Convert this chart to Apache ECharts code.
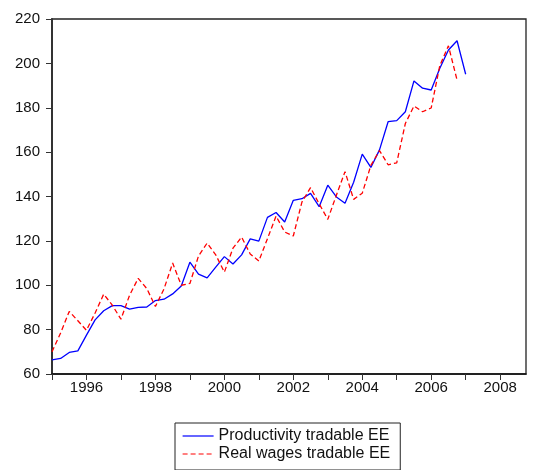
<!DOCTYPE html>
<html>
<head>
<meta charset="utf-8">
<script src="https://cdn.jsdelivr.net/npm/echarts@6/dist/echarts.min.js"></script>
<style>
html,body{margin:0;padding:0;background:#fff;}
#chart{width:541px;height:470px;}
</style>
</head>
<body>
<div id="chart"></div>
<script>
const periods = [
 '1995Q1','1995Q2','1995Q3','1995Q4','1996Q1','1996Q2','1996Q3','1996Q4',
 '1997Q1','1997Q2','1997Q3','1997Q4','1998Q1','1998Q2','1998Q3','1998Q4',
 '1999Q1','1999Q2','1999Q3','1999Q4','2000Q1','2000Q2','2000Q3','2000Q4',
 '2001Q1','2001Q2','2001Q3','2001Q4','2002Q1','2002Q2','2002Q3','2002Q4',
 '2003Q1','2003Q2','2003Q3','2003Q4','2004Q1','2004Q2','2004Q3','2004Q4',
 '2005Q1','2005Q2','2005Q3','2005Q4','2006Q1','2006Q2','2006Q3','2006Q4',
 '2007Q1'
];
const productivity = [
 66.4, 67.0, 69.7, 70.4, 77.5, 84.4, 88.5, 90.8,
 90.8, 89.2, 90.0, 90.2, 93.1, 93.7, 96.1, 99.7,
 110.4, 105.0, 103.3, 108.2, 112.9, 109.6, 113.7, 120.9,
 119.9, 130.6, 132.8, 128.5, 138.3, 139.0, 141.4, 135.4,
 145.1, 139.8, 137.0, 146.4, 159.1, 153.1, 161.0, 173.7,
 174.2, 178.2, 192.1, 188.8, 188.0, 197.8, 206.0, 210.2,
 195.1
];
const realWages = [
 70.0, 78.5, 88.2, 84.0, 79.7, 87.5, 96.0, 91.0,
 84.7, 95.5, 103.1, 98.5, 90.4, 98.4, 110.0, 100.0,
 100.8, 113.2, 119.0, 113.7, 105.9, 116.7, 121.7, 114.1,
 110.9, 121.0, 131.2, 124.0, 122.2, 137.5, 144.0, 136.7,
 129.7, 140.6, 151.2, 138.7, 141.5, 154.0, 160.7, 154.3,
 155.2, 172.9, 180.8, 178.2, 179.9, 199.0, 207.9, 192.5
];
const xTickYears = [1995,1996,1997,1998,1999,2000,2001,2002,2003,2004,2005,2006,2007,2008];
const xLabelYears = [1996,1998,2000,2002,2004,2006,2008];
const seriesNames = ['Productivity tradable EE','Real wages tradable EE'];

function periodToTime(p){
  const y = parseInt(p.slice(0,4),10);
  const q = parseInt(p.slice(5),10);
  return y + (q-1)/4;
}
function pairs(vals){
  return vals.map((v,i)=>[periodToTime(periods[i]), v]);
}

const chart = echarts.init(document.getElementById('chart'), null, {renderer:'canvas'});
const font = 'Liberation Sans, Arial, sans-serif';
chart.setOption({
  animation:false,
  backgroundColor:'#fff',
  grid:{left:52,right:15,top:19,bottom:96,show:true,borderColor:'#222',borderWidth:1.3,backgroundColor:'transparent'},
  xAxis:{
    type:'value',min:1995,max:2008.75,
    splitLine:{show:false},
    axisLine:{lineStyle:{color:'#111',width:1.5}},
    axisTick:{show:true,length:6,customValues:xTickYears,lineStyle:{color:'#333',width:1}},
    axisLabel:{customValues:xLabelYears,margin:6,color:'#111',fontSize:15,fontFamily:font,formatter:v=>String(v)}
  },
  yAxis:{
    type:'value',min:60,max:220,interval:20,
    splitLine:{show:false},
    axisLine:{show:true,lineStyle:{color:'#333',width:2}},
    axisTick:{show:true,length:6,lineStyle:{color:'#333',width:1}},
    axisLabel:{margin:12,color:'#111',fontSize:15,fontFamily:font}
  },
  legend:{
    orient:'vertical',left:175,top:423,
    padding:[5,10,8,7],itemGap:2,itemWidth:31,itemHeight:14,
    borderColor:'#222',borderWidth:1,borderRadius:0,backgroundColor:'#fff',
    itemStyle:{opacity:0},
    lineStyle:{width:1.2},
    textStyle:{fontSize:16,fontFamily:font,color:'#111'},
    data:seriesNames
  },
  series:[
    {name:seriesNames[0],type:'line',data:pairs(productivity),showSymbol:false,
     lineStyle:{color:'#0000ff',width:1.3},itemStyle:{color:'#0000ff'}},
    {name:seriesNames[1],type:'line',data:pairs(realWages),showSymbol:false,
     lineStyle:{color:'#ff0000',width:1.3,type:[5,3]},itemStyle:{color:'#ff0000'}}
  ]
});
</script>
</body>
</html>
